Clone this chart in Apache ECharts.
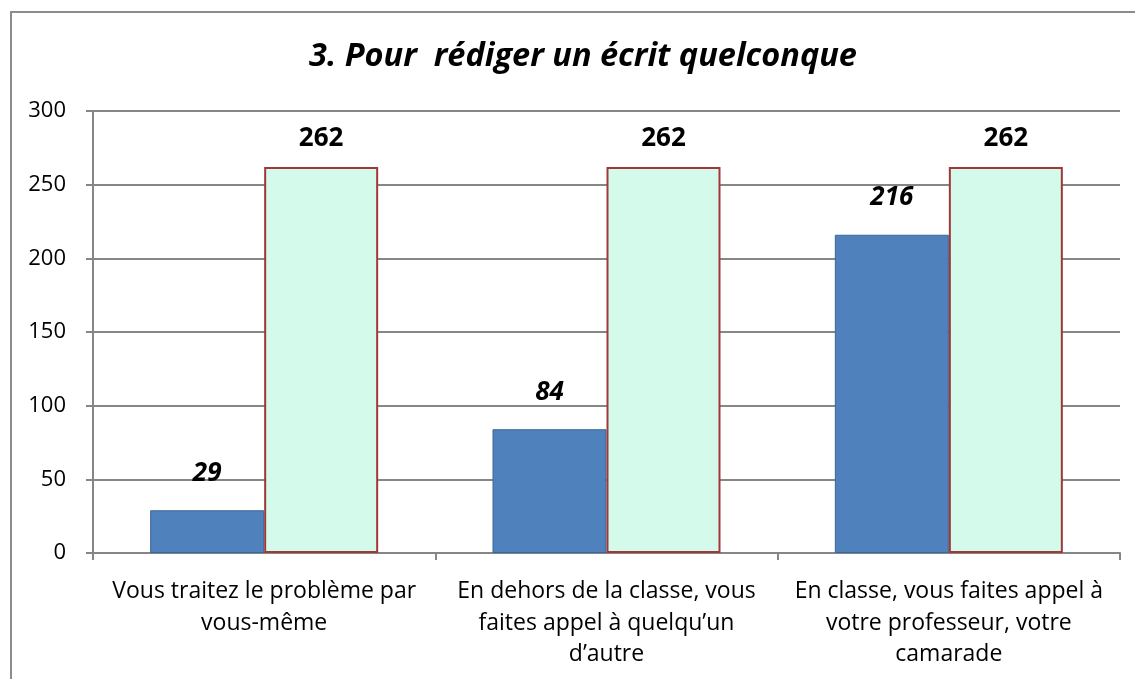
<!DOCTYPE html>
<html>
<head>
    <meta charset="utf-8"/>
    <title>3. Pour rédiger un écrit quelconque</title>
    <style type="text/css">
        html, body { margin: 0; padding: 0; background: #fff; overflow: hidden; width: 1135px; height: 679px; }
        #frame {
            position: absolute; left: 10px; top: 11px;
            width: 1140px; height: 680px;
            border: 2px solid #8c8c8c; box-sizing: border-box;
        }
        #main { position: absolute; left: 0; top: 0; width: 1135px; height: 679px; }
    </style>
    <script type="text/javascript" src="https://cdn.jsdelivr.net/npm/echarts@6/dist/echarts.min.js"></script>
</head>
<body>
<div id="frame"></div>
<div id="main"></div>
<script type="text/javascript">
    // données
    var categories = [
        'Vous traitez le problème par\nvous-même',
        'En dehors de la classe, vous\nfaites appel à quelqu\u2019un\nd\u2019autre',
        'En classe, vous faites appel à\nvotre professeur, votre\ncamarade'
    ];
    var reponses = [29, 84, 216];
    var total = [262, 262, 262];
    var yTicks = [0, 50, 100, 150, 200, 250, 300];

    var font = '"Open Sans", Lato, sans-serif';
    var myChart = echarts.init(document.getElementById('main'));

    var option = {
        animation: false,
        title: {
            text: '3. Pour  rédiger un écrit quelconque',
            left: 578, top: 35, textAlign: 'center',
            textStyle: { fontFamily: font, fontSize: 32.5, fontWeight: 'bold', fontStyle: 'italic', color: '#000' }
        },
        grid: { left: 93, right: 15, top: 111, bottom: 126 },
        xAxis: {
            type: 'category',
            data: categories,
            axisLine: { lineStyle: { color: '#868686', width: 2 } },
            axisTick: { show: true, length: 7, lineStyle: { color: '#868686', width: 2 } },
            axisLabel: {
                fontFamily: font, fontSize: 23, color: '#000', lineHeight: 31.5, margin: 23,
                interval: 0, hideOverlap: false
            }
        },
        yAxis: {
            type: 'value',
            min: yTicks[0], max: yTicks[yTicks.length - 1], interval: 50,
            axisLine: { show: true, lineStyle: { color: '#868686', width: 2 } },
            axisTick: { show: true, length: 7, lineStyle: { color: '#868686', width: 2 } },
            splitLine: { lineStyle: { color: '#868686', width: 2 } },
            axisLabel: { fontFamily: font, fontSize: 22, color: '#000', margin: 27 }
        },
        series: [{
            name: 'Réponses',
            type: 'bar',
            data: reponses,
            barWidth: 114,
            barGap: '0%',
            itemStyle: { color: '#4F81BD', borderColor: '#3A6597', borderWidth: 1 },
            label: {
                show: true, position: 'top', distance: 24,
                fontFamily: font, fontSize: 26, fontWeight: 'bold', fontStyle: 'italic', color: '#000'
            }
        }, {
            name: 'Total',
            type: 'bar',
            data: total,
            barWidth: 114,
            itemStyle: { color: '#D3FAEA', borderColor: '#A0383A', borderWidth: 2 },
            label: {
                show: true, position: 'top', distance: 15,
                fontFamily: font, fontSize: 26, fontWeight: 'bold', color: '#000'
            }
        }]
    };

    myChart.setOption(option);
</script>
</body>
</html>
